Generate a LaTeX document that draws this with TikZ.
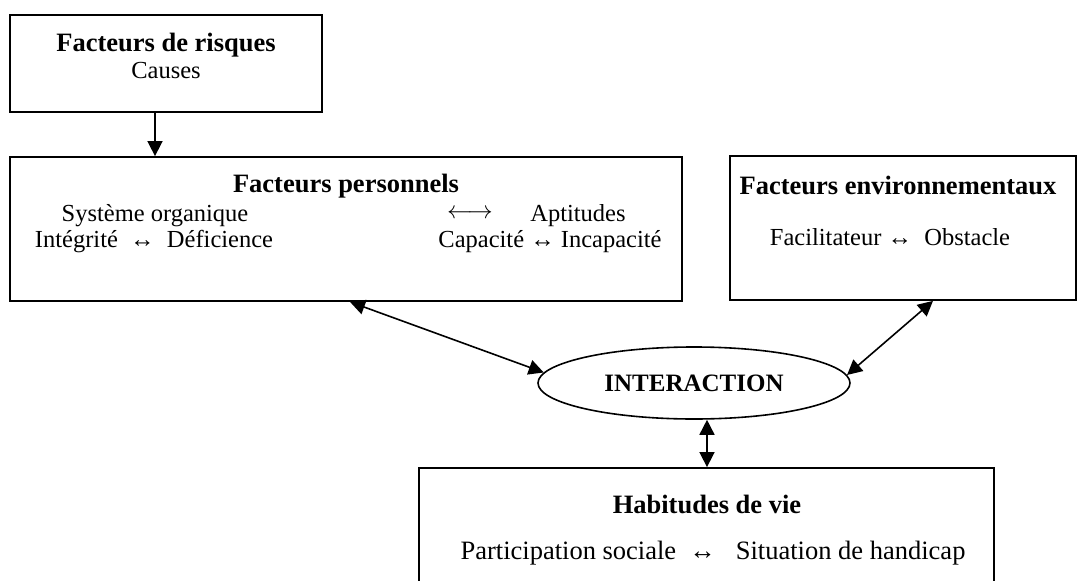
\documentclass[tikz,border=0pt]{standalone}
\usepackage{fontspec}
\setmainfont{Liberation Serif}
\usetikzlibrary{arrows.meta,shapes.geometric,calc}
\begin{document}
\begin{tikzpicture}[x=1pt,y=-1pt,
  box/.style={draw,line width=1.8pt,rectangle,inner sep=0pt},
  txt/.style={inner sep=0pt,font=\fontsize{24.5}{28}\selectfont},
  bigtxt/.style={inner sep=0pt,font=\fontsize{26.5}{30}\selectfont},
  ttl/.style={inner sep=0pt,font=\fontsize{26.5}{30}\selectfont\bfseries},
  conn/.style={line width=1.6pt,-{Triangle[length=15pt,width=15pt]}},
  dconn/.style={line width=1.6pt,{Triangle[length=15pt,width=15pt]}-{Triangle[length=15pt,width=15pt]}}]
\useasboundingbox (0,0) rectangle (1077,581);
% boxes
\node[box,minimum width=312pt,minimum height=97pt] (risk) at (166,63.5) {};
\node[box,minimum width=672pt,minimum height=144pt] (pers) at (346,229) {};
\node[box,minimum width=346pt,minimum height=144pt] (env) at (903,228) {};
\node[draw,ellipse,line width=1.6pt,inner sep=0pt,minimum width=312pt,minimum height=72pt,
      font=\fontsize{25}{29}\selectfont\bfseries] (inter) at (694,383) {INTERACTION};
\node[box,minimum width=575pt,minimum height=152pt] (hab) at (706.5,544) {};
% texts
\node[ttl] (t1) at (166,45) {Facteurs de risques};
\node[txt] (t2) at (166,71) {Causes};
\node[ttl] (t3) at (346,186) {Facteurs personnels};
\node[txt] (t4) at (155,216) {Système organique};
\node[txt] (t5) at (470,214) {$\longleftrightarrow$};
\node[txt] (t6) at (578,216) {Aptitudes};
\node[txt] (t7) at (154,242) {Intégrité ~↔~ Déficience};
\node[txt] (t8) at (550,242) {Capacité ↔ Incapacité};
\node[ttl] (t9) at (898,185) {Facteurs environnementaux};
\node[txt] (t10) at (890,237) {Facilitateur ↔~ Obstacle};
\node[ttl] (t11) at (707,504) {Habitudes de vie};
\node[bigtxt] (t12) at (713,553) {Participation sociale ~↔~~ Situation de handicap};
% connectors
\draw[conn] ([xshift=-11pt]risk.south) -- ([xshift=-11pt]risk.south |- pers.north);
\draw[dconn] ([xshift=4pt]pers.south) -- (inter.176);
\draw[dconn] ([xshift=30pt]env.south) -- (inter.3);
\draw[dconn] ([xshift=13pt]inter.south) -- ([xshift=13pt]inter.south |- hab.north);
\end{tikzpicture}
\end{document}
